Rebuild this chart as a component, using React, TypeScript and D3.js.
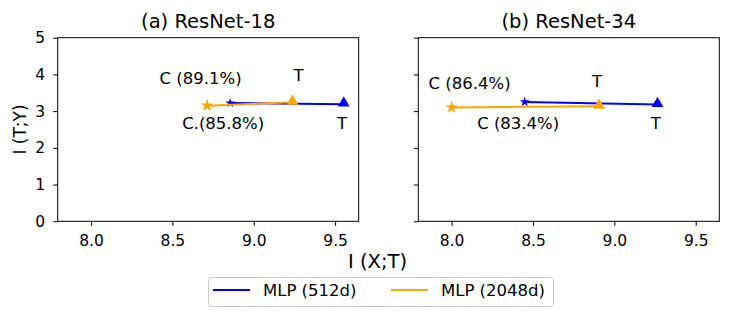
import React from "react";
import * as d3 from "d3";

const panelTitles = ["(a) ResNet-18", "(b) ResNet-34"];
const seriesNames = ["MLP (512d)", "MLP (2048d)"];
const seriesColors = ["#0000ff", "#ffa500"];

// [star (C), triangle (T)] for each panel
const blueX = [[8.855, 9.553], [8.449, 9.265]];
const blueY = [[3.22, 3.19], [3.25, 3.18]];
const orangeX = [[8.714, 9.238], [8.0, 8.906]];
const orangeY = [[3.15, 3.24], [3.1, 3.13]];

const labelText = [
  ["C (89.1%)", "T", "C.(85.8%)", "T"],
  ["C (86.4%)", "T", "C (83.4%)", "T"],
];
const labelX = [[8.673, 9.275, 8.812, 9.542], [8.11, 8.894, 8.409, 9.255]];
const labelY = [[3.737, 3.82, 2.51, 2.51], [3.6, 3.655, 2.51, 2.51]];

const xTicks = [8.0, 8.5, 9.0, 9.5];
const yTicks = [0, 1, 2, 3, 4, 5];

const font = "DejaVu Sans, sans-serif";

export default function App() {
  const svgRef = React.useRef<SVGSVGElement>(null);
  const width = 731;
  const height = 319;
  const panelLefts = [57.7, 418.3];
  const panelWidth = 301;
  const top = 37.7;
  const bottom = 221.3;

  React.useEffect(() => {
    const svg = d3.select(svgRef.current);
    svg.selectAll("*").remove();

    const yScale = d3.scaleLinear().domain([0, 5]).range([bottom, top]);
    const star = d3.symbol().type(d3.symbolStar);
    const tri = d3.symbol().type(d3.symbolTriangle);

    panelLefts.forEach((left, p) => {
      const xScale = d3
        .scaleLinear()
        .domain([7.795, 9.645])
        .range([left, left + panelWidth]);
      const g = svg.append("g");

      const xAxis = d3
        .axisBottom(xScale)
        .tickValues(xTicks)
        .tickSize(4.5)
        .tickPadding(9)
        .tickFormat(d3.format(".1f"));
      g.append("g")
        .attr("transform", `translate(0,${bottom})`)
        .call(xAxis)
        .call((a) => a.select(".domain").remove())
        .selectAll("text")
        .style("font-size", "15.5px")
        .style("font-family", font)
        .attr("fill", "#000");

      const yAxis = d3
        .axisLeft(yScale)
        .tickValues(yTicks)
        .tickSize(4.5)
        .tickPadding(8)
        .tickFormat(d3.format("d"));
      g.append("g")
        .attr("transform", `translate(${left},0)`)
        .call(yAxis)
        .call((a) => a.select(".domain").remove())
        .call((a) => {
          if (p === 1) a.selectAll(".tick text").remove();
        })
        .selectAll("text")
        .style("font-size", "15.5px")
        .style("font-family", font)
        .attr("fill", "#000");

      const lines = [
        { xs: blueX[p], ys: blueY[p], color: seriesColors[0], starSize: 30 },
        { xs: orangeX[p], ys: orangeY[p], color: seriesColors[1], starSize: 50 },
      ];
      lines.forEach((s) => {
        const pts = s.xs.map((x, i) => [xScale(x), yScale(s.ys[i])] as [number, number]);
        g.append("path")
          .attr("d", d3.line()(pts))
          .attr("fill", "none")
          .attr("stroke", s.color)
          .attr("stroke-width", 2);
        g.append("path")
          .attr("d", star.size(s.starSize)())
          .attr("transform", `translate(${pts[0][0]},${pts[0][1]})`)
          .attr("fill", s.color);
        g.append("path")
          .attr("d", tri.size(60)())
          .attr("transform", `translate(${pts[1][0]},${pts[1][1] - 1})`)
          .attr("fill", s.color);
      });

      labelText[p].forEach((t, i) => {
        g.append("text")
          .attr("x", xScale(labelX[p][i]))
          .attr("y", yScale(labelY[p][i]))
          .attr("text-anchor", "middle")
          .style("font-size", "16.5px")
          .style("font-family", font)
          .text(t);
      });

      g.append("rect")
        .attr("x", left)
        .attr("y", top)
        .attr("width", panelWidth)
        .attr("height", bottom - top)
        .attr("fill", "none")
        .attr("stroke", "#000")
        .attr("stroke-width", 1);

      g.append("text")
        .attr("x", left + panelWidth / 2)
        .attr("y", 28)
        .attr("text-anchor", "middle")
        .style("font-size", "19.5px")
        .style("font-family", font)
        .text(panelTitles[p]);
    });

    svg.append("text")
      .attr("transform", `translate(26,${(top + bottom) / 2}) rotate(-90)`)
      .attr("text-anchor", "middle")
      .style("font-size", "17px")
      .style("font-family", font)
      .text("I (T;Y)");

    svg.append("text")
      .attr("x", 377.5)
      .attr("y", 268)
      .attr("text-anchor", "middle")
      .style("font-size", "19.5px")
      .style("font-family", font)
      .text("I (X;T)");

    const lg = svg.append("g");
    lg.append("rect")
      .attr("x", 208.5)
      .attr("y", 277.5)
      .attr("width", 345)
      .attr("height", 29)
      .attr("rx", 2)
      .attr("fill", "#fff")
      .attr("stroke", "#ccc");
    const itemX = [213, 391];
    seriesNames.forEach((n, i) => {
      lg.append("line")
        .attr("x1", itemX[i])
        .attr("x2", itemX[i] + 37)
        .attr("y1", 290)
        .attr("y2", 290)
        .attr("stroke", seriesColors[i])
        .attr("stroke-width", 2);
      lg.append("text")
        .attr("x", itemX[i] + 50)
        .attr("y", 296)
        .style("font-size", "16.5px")
        .style("font-family", font)
        .text(n);
    });
  }, []);

  return (
    <svg
      ref={svgRef}
      width={width}
      height={height}
      style={{ position: "absolute", left: 0, top: 0, background: "#fff" }}
    />
  );
}
